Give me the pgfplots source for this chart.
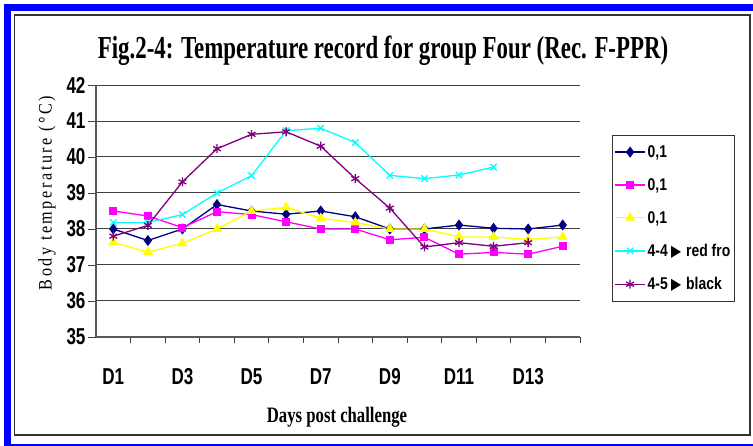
\documentclass[border=0pt]{standalone}
\usepackage{graphicx}
\usepackage{fontspec}
\usepackage{pgfplots}
\pgfplotsset{compat=1.18}
\setmainfont{Liberation Serif}
\newfontfamily\arialfont{Liberation Sans}
\newfontfamily\symfont{DejaVu Sans}
\newfontfamily\ylabfont{Liberation Serif}[LetterSpace=16]
\newcommand{\nl}[1]{\scalebox{0.74}[1]{#1}}
\newcommand{\lgt}[1]{\scalebox{0.82}[1]{#1}}
\definecolor{navyc}{RGB}{0,0,128}
\definecolor{magc}{RGB}{255,0,255}
\definecolor{yelc}{RGB}{255,255,0}
\definecolor{cyac}{RGB}{0,255,255}
\definecolor{purc}{RGB}{128,0,128}
\definecolor{bluec}{RGB}{0,0,255}
\begin{document}
\begin{tikzpicture}[x=1pt,y=1pt]
\clip (0,0) rectangle (753,446);
\fill[white] (0,0) rectangle (753,446);
\draw[bluec, line width=6.7pt] (7.3,-1.3) -- (7.3,438.7) -- (770,438.7);
\draw[bluec, line width=6.7pt] (7.3,-1.3) -- (770,-1.3);
\draw[black!80, line width=1.5pt] (14.5,11) rectangle (750,431);
\node[font=\bfseries\fontsize{32}{32}\selectfont] at (383,395) {\scalebox{0.715}[1]{Fig.2-4: Temperature record for group Four (Rec. F-PPR)}};
\node[font=\bfseries\fontsize{22}{22}\selectfont] at (337,29) {\scalebox{0.76}[1]{Days post challenge}};
\node[rotate=90, font=\ylabfont\fontsize{19}{19}\selectfont] at (47,253) {\scalebox{0.85}[1]{Body temperature (°C)}};
\begin{axis}[
  at={(96pt,109pt)}, anchor=south west,
  scale only axis, width=484pt, height=252pt,
  xmin=0.5, xmax=14.5, ymin=35, ymax=42,
  xtick={1,3,...,13}, xticklabels={\nl{D1},\nl{D3},\nl{D5},\nl{D7},\nl{D9},\nl{D11},\nl{D13}},
  minor xtick={1.5,2.5,...,14.5},
  ytick={35,...,42}, yticklabels={\nl{35},\nl{36},\nl{37},\nl{38},\nl{39},\nl{40},\nl{41},\nl{42}},
  tick label style={font=\arialfont\bfseries\fontsize{23}{23}\selectfont},
  xticklabel style={yshift=-20pt},
  yticklabel style={xshift=1pt},
  tick align=outside,
  major tick length=8pt, minor tick length=6pt,
  major x tick style={draw=none},
  tick style={black!75, line width=0.9pt},
  ymajorgrids, grid style={black!75, line width=1pt},
  axis x line*=bottom, axis y line*=left,
  axis line style={-, black!65, line width=1.2pt},
  legend style={at={(1.066,0.802)}, anchor=north west, draw=black!80, line width=1pt,
    font=\arialfont\bfseries\fontsize{17}{17}\selectfont, row sep=15.5pt, inner ysep=8pt, inner xsep=2pt},
  legend cell align=left,
  legend image code/.code={\draw[mark repeat=2,mark phase=2,#1] plot coordinates {(0pt,0pt)(15pt,0pt)(30pt,0pt)};},
  every axis plot/.append style={line width=1.3pt},
]
\addplot[color=navyc, mark=diamond*, mark size=4.5pt, mark options={fill=navyc}] coordinates {
(1,38.0)(2,37.68)(3,38.0)(4,38.68)(5,38.5)(6,38.41)(7,38.5)(8,38.34)(9,38.0)(10,38.0)(11,38.11)(12,38.02)(13,38.0)(14,38.11)};
\addlegendentry{\lgt{0,1}}
\addplot[color=magc, mark=square*, mark size=3.3pt, mark options={fill=magc}] coordinates {
(1,38.5)(2,38.36)(3,38.04)(4,38.48)(5,38.4)(6,38.2)(7,38.0)(8,38.0)(9,37.7)(10,37.77)(11,37.3)(12,37.35)(13,37.3)(14,37.52)};
\addlegendentry{\lgt{0,1}}
\addplot[color=yelc, mark=triangle*, mark size=4.5pt, mark options={fill=yelc}] coordinates {
(1,37.63)(2,37.36)(3,37.6)(4,38.0)(5,38.5)(6,38.6)(7,38.3)(8,38.18)(9,38.0)(10,38.0)(11,37.78)(12,37.78)(13,37.71)(14,37.78)};
\addlegendentry{\lgt{0,1}}
\addplot[color=cyac, mark=x, mark size=4.5pt] coordinates {
(1,38.18)(2,38.18)(3,38.4)(4,39.0)(5,39.48)(6,40.73)(7,40.8)(8,40.4)(9,39.49)(10,39.4)(11,39.5)(12,39.72)};
\addlegendentry{\lgt{4-4\hspace{4pt}{\symfont\fontsize{16}{16}\selectfont ▶}\hspace{6pt}red fro}}
\addplot[color=purc, mark=asterisk, mark size=4.5pt] coordinates {
(1,37.8)(2,38.1)(3,39.31)(4,40.23)(5,40.63)(6,40.7)(7,40.3)(8,39.4)(9,38.58)(10,37.5)(11,37.62)(12,37.52)(13,37.62)};
\addlegendentry{\lgt{4-5\hspace{4pt}{\symfont\fontsize{16}{16}\selectfont ▶}\hspace{6pt}black}}
\end{axis}
\end{tikzpicture}
\end{document}
